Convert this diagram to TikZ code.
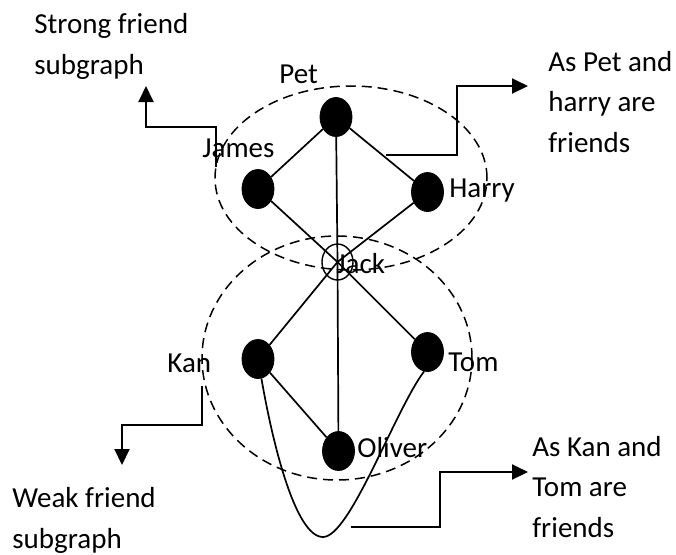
\documentclass[tikz,border=0pt]{standalone}
\usepackage{fontspec}
\setmainfont{Carlito}
\usetikzlibrary{arrows.meta,shapes.geometric}
\begin{document}
\begin{tikzpicture}[x=0.5pt,y=-0.5pt,
 vtx/.style={ellipse,fill=black,draw=black,minimum width=16pt,minimum height=19.5pt,inner sep=0pt},
 hub/.style={ellipse,draw=black,line width=0.7pt,minimum width=15.5pt,minimum height=18pt,inner sep=0pt},
 edge/.style={line width=0.85pt},
 grp/.style={dash pattern=on 5pt off 3pt,line width=0.75pt},
 callout/.style={line width=1pt,-{Triangle[length=8pt,width=7.5pt]}},
 lbl/.style={font=\fontsize{14.5}{20.25}\selectfont,inner sep=0pt,anchor=base west},
 txt/.style={lbl,align=left}]
\useasboundingbox (0,0) rectangle (676,554);
% group ellipses
\draw[grp] (351,178) ellipse [x radius=68pt,y radius=46pt];
\draw[grp] (337,358) ellipse [x radius=67.5pt,y radius=61pt];
% vertices
\node[vtx] (pet) at (336,117) {};
\node[vtx] (james) at (258,189) {};
\node[vtx] (harry) at (427.5,192) {};
\node[hub] (jack) at (337.5,262) {};
\node[vtx] (kan) at (258,359) {};
\node[vtx] (tom) at (427.5,352) {};
\node[vtx] (oliver) at (338.5,451) {};
% edges
\draw[edge] (pet) -- (james);
\draw[edge] (pet) -- (harry);
\draw[edge] (pet) -- (jack.center);
\draw[edge] (james) -- (jack.center);
\draw[edge] (harry) -- (jack.center);
\draw[edge] (jack.center) -- (kan);
\draw[edge] (jack.center) -- (tom);
\draw[edge] (jack.center) -- (oliver);
\draw[edge] (kan) -- (oliver);
\coordinate (bottom) at (323,537);
\draw[edge] (kan.-80) .. controls (272,440) and (295,537) .. (bottom)
  .. controls (350,537) and (395,410) .. (tom.-100);
% vertex labels
\node[lbl] (petl) at (279,83) {Pet};
\node[lbl] (jamesl) at (202,157) {James};
\node[lbl] (harryl) at (449,197) {Harry};
\node[lbl] (jackl) at (336,273) {Jack};
\node[lbl] (kanl) at (167,372) {Kan};
\node[lbl] (toml) at (448,371) {Tom};
\node[lbl] (oliverl) at (357,457) {Oliver};
% callout texts (anchor = baseline of last line)
\node[txt] (strong) at (34,74) {Strong friend\\subgraph};
\node[txt] (petharry) at (548,152) {As Pet and\\harry are\\friends};
\node[txt] (kantom) at (532,537) {As Kan and\\Tom are\\friends};
\node[txt] (weak) at (12,548) {Weak friend\\subgraph};
% callout arrows
\coordinate (s0) at (216,167);
\coordinate (s1) at (146,86);
\draw[callout] (s0) -- (216,127) -- (146,127) -- (s1);
\coordinate (p0) at (386,155);
\coordinate (p1) at (528,86);
\draw[callout] (p0) -- (457,155) -- (457,86) -- (p1);
\coordinate (w0) at (202,386);
\coordinate (w1) at (122,465);
\draw[callout] (w0) -- (202,425) -- (122,425) -- (w1);
\coordinate (k0) at (351,527);
\coordinate (k1) at (528,472);
\draw[callout] (k0) -- (440,527) -- (440,472) -- (k1);
\end{tikzpicture}
\end{document}
